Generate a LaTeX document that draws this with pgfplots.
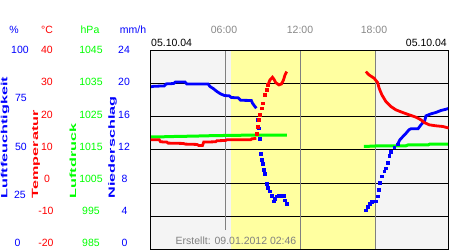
\documentclass[border=0pt]{standalone}
\usepackage{fontspec}
\setmainfont{Liberation Sans}
\usepackage{pgfplots}
\pgfplotsset{compat=1.18}
\definecolor{bggray}{RGB}{244,244,244}
\definecolor{dayyellow}{RGB}{255,255,160}
\definecolor{hblue}{RGB}{0,0,255}
\definecolor{tred}{RGB}{255,0,0}
\definecolor{pgreen}{RGB}{0,255,0}
\definecolor{lgray}{RGB}{128,128,128}
\definecolor{tgray}{RGB}{136,136,136}
\pgfplotsset{
  base/.style={at={(150.5bp,0.5bp)}, anchor=south west, scale only axis,
    width=298bp, height=199.5bp, xmin=0, xmax=23.8, clip=true},
  dense/.style={no marks, line width=2.8bp, line cap=butt, line join=miter},
  sparse/.style={only marks, mark=square*, mark size=1.4bp},
}
\begin{document}
\begin{tikzpicture}[x=1bp,y=1bp,font=\fontsize{10.5bp}{12bp}\selectfont]
\useasboundingbox (0,0) rectangle (450,250);
% background, daylight band, grid
\begin{axis}[base, ymin=0, ymax=100, hide axis]
\fill[bggray] (rel axis cs:0,0) rectangle (rel axis cs:1,1);
\addplot[fill=dayyellow, draw=none] coordinates {(6.43,0) (18.02,0) (18.02,100) (6.43,100)} -- cycle;
\draw[black, line width=1bp] (rel axis cs:0,0.166667) -- (rel axis cs:1,0.166667);
\draw[black, line width=1bp] (rel axis cs:0,0.333333) -- (rel axis cs:1,0.333333);
\draw[black, line width=1bp] (rel axis cs:0,0.5) -- (rel axis cs:1,0.5);
\draw[black, line width=1bp] (rel axis cs:0,0.666667) -- (rel axis cs:1,0.666667);
\draw[black, line width=1bp] (rel axis cs:0,0.833333) -- (rel axis cs:1,0.833333);
\draw[lgray, line width=1bp] (axis cs:6,9.8) -- (axis cs:6,100);
\draw[lgray, line width=1bp] (axis cs:12,0) -- (axis cs:12,100);
\draw[lgray, line width=1bp] (axis cs:18,0) -- (axis cs:18,100);
\end{axis}
% pressure (hPa)
\begin{axis}[base, ymin=985, ymax=1045, hide axis]
\addplot[pgreen, dense, line width=3bp] coordinates {(0,1018.9) (1,1018.9) (2,1019.0) (3.5,1019.1) (4.5,1019.2) (6,1019.3) (8,1019.4) (10.9,1019.4)};
\addplot[pgreen, dense, line width=3bp] coordinates {(17.04,1016.0) (17.9,1016.1) (18.0,1016.2) (20.4,1016.2) (20.6,1016.5) (22.2,1016.5) (22.3,1016.7) (23.85,1016.7)};
\end{axis}
% humidity (%)
\begin{axis}[base, ymin=0, ymax=100, hide axis]
\addplot[hblue, dense] coordinates {(0.0,81.5) (0.25,81.8) (1.1,82.0) (1.25,83) (1.85,83.2) (2.0,84) (2.75,84) (2.9,83) (4.6,83) (4.75,81.7) (5.05,80.5) (5.3,79.2) (5.6,78) (5.9,77.2) (6.3,77) (6.45,76.2) (7.0,76) (7.2,74.8) (8.05,74.7) (8.15,73.3) (8.3,72) (8.45,70.8)};
\addplot[hblue, sparse] coordinates {(8.54,65) (8.66,60.8) (8.74,55.5) (8.8,48) (8.88,45) (8.98,43) (9.06,40) (9.14,38) (9.28,33) (9.38,30.8) (9.52,29.2) (9.66,27) (9.82,24.2) (9.94,25.3) (10.06,26.7) (10.2,27) (10.35,27) (10.5,27) (10.64,27) (10.74,24.7) (10.88,23)};
\addplot[hblue, sparse] coordinates {(17.2,19.7) (17.34,21.3) (17.52,23) (17.64,24) (17.76,24.2) (17.88,24.2) (18.0,24.2) (18.14,26.7) (18.22,30) (18.32,33.3) (18.48,36.7) (18.66,39.2) (18.8,40.8) (18.94,43.7) (19.06,47) (19.2,49.2) (19.46,51.3) (19.74,52.8)};
\addplot[hblue, dense] coordinates {(19.74,52.8) (19.92,55) (20.14,56.5) (20.4,58.2) (20.64,60) (20.8,60.5) (21.36,60.5) (21.6,62.5) (21.9,64.5) (22.0,67) (22.4,68) (22.8,68.7) (23.2,69.7) (23.6,70.3) (23.85,70.8)};
\end{axis}
% temperature (degC) + frame
\begin{axis}[base, ymin=-20, ymax=40, xtick=\empty, ytick=\empty, axis line style={black, line width=1bp}]
\addplot[tred, dense] coordinates {(0,13.0) (0.7,13.0) (0.8,12.4) (1.3,12.3) (1.4,12.0) (2.6,11.9) (2.8,11.7) (3.7,11.6) (3.85,11.3) (4.15,11.3) (4.25,12.3) (5.2,12.4) (5.3,12.7) (6.0,12.8) (6.1,13.0) (8.0,13.0) (8.1,13.3) (8.45,13.4)};
\addplot[tred, sparse] coordinates {(8.48,14.8) (8.57,17) (8.66,19) (8.74,20.5) (8.86,22.5) (8.98,24) (9.12,26.5) (9.28,28) (9.38,29.5)};
\addplot[tred, dense] coordinates {(9.38,29.5) (9.54,31) (9.74,31.8) (9.86,31.2) (10.0,30.2) (10.26,29.5) (10.46,29.8) (10.62,31) (10.74,32.5) (10.88,33.5)};
\addplot[tred, dense] coordinates {(17.2,33.5) (17.46,32.5) (17.86,31.5) (18.14,30.2) (18.26,28.5) (18.48,26.5) (18.8,24.5) (19.2,23) (19.6,22) (20.14,21.2) (20.66,20.5) (21.2,19.8) (21.6,19) (21.86,18.2) (22.26,17.5) (22.8,17.2) (23.34,17) (23.85,16.5)};
\end{axis}
% header units
\node[hblue, inner sep=0] at (14,220) {\%};
\node[tred, inner sep=0] at (47,220) {°C};
\node[pgreen, inner sep=0] at (90,220) {hPa};
\node[hblue, inner sep=0] at (133,220) {mm/h};
% time labels
\node[tgray, inner sep=0] at (224,220) {06:00};
\node[tgray, inner sep=0] at (300,220) {12:00};
\node[tgray, inner sep=0] at (374,220) {18:00};
\node[black, inner sep=0, anchor=west] at (151,206.7) {05.10.04};
\node[black, inner sep=0, anchor=east] at (447,206.7) {05.10.04};
% tick label columns
\node[hblue, inner sep=0] at (20,200) {100};
\node[hblue, inner sep=0] at (21,151.7) {75};
\node[hblue, inner sep=0] at (21,103.4) {50};
\node[hblue, inner sep=0] at (20,55.1) {25};
\node[hblue, inner sep=0] at (17.5,6.8) {0};
\node[tred, inner sep=0] at (47,200) {40};
\node[tred, inner sep=0] at (47,167.8) {30};
\node[tred, inner sep=0] at (47,135.6) {20};
\node[tred, inner sep=0] at (47,103.4) {10};
\node[tred, inner sep=0] at (47,71.2) {0};
\node[tred, inner sep=0] at (46,39) {-10};
\node[tred, inner sep=0] at (46,6.8) {-20};
\node[pgreen, inner sep=0] at (91,200) {1045};
\node[pgreen, inner sep=0] at (91,167.8) {1035};
\node[pgreen, inner sep=0] at (91,135.6) {1025};
\node[pgreen, inner sep=0] at (91,103.4) {1015};
\node[pgreen, inner sep=0] at (91,71.2) {1005};
\node[pgreen, inner sep=0] at (91,39) {995};
\node[pgreen, inner sep=0] at (91,6.8) {985};
\node[hblue, inner sep=0] at (124,200) {24};
\node[hblue, inner sep=0] at (124,167.8) {20};
\node[hblue, inner sep=0] at (124,135.6) {16};
\node[hblue, inner sep=0] at (124,103.4) {12};
\node[hblue, inner sep=0] at (124.5,71.2) {8};
\node[hblue, inner sep=0] at (124.5,39) {4};
\node[hblue, inner sep=0] at (124.5,6.8) {0};
% rotated axis titles
\begin{scope}[font=\bfseries\fontsize{9bp}{10bp}\selectfont]
\node[hblue, rotate=90, anchor=west, inner sep=0] at (5,51.5) {\scalebox{1.8}[1]{Luftfeuchtigkeit}};
\node[tred, rotate=90, anchor=west, inner sep=0] at (36,51.5) {\scalebox{1.8}[1]{Temperatur}};
\node[pgreen, rotate=90, anchor=west, inner sep=0] at (73,51.5) {\scalebox{1.8}[1]{Luftdruck}};
\node[hblue, rotate=90, anchor=west, inner sep=0] at (112.5,51.5) {\scalebox{1.8}[1]{Niederschlag}};
\end{scope}
% footer
\node[lgray, inner sep=0] at (236,9.2) {Erstellt: 09.01.2012 02:46};
\end{tikzpicture}
\end{document}
